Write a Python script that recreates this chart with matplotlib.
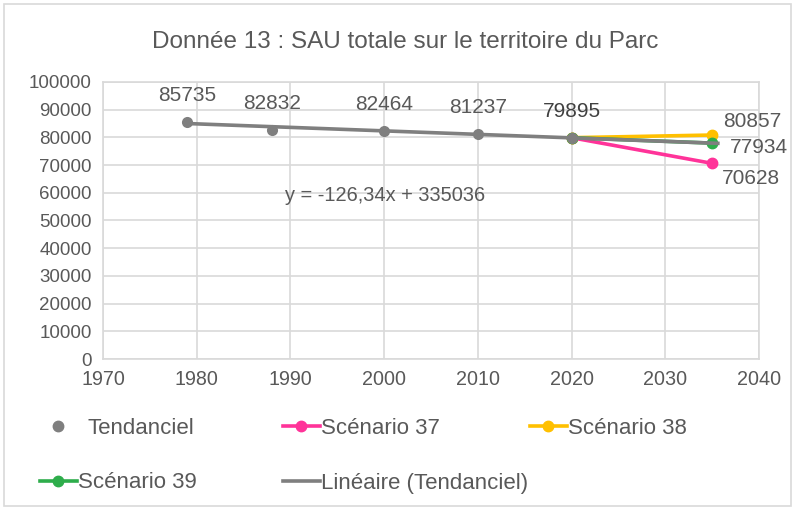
import matplotlib
matplotlib.use("Agg")
import matplotlib.pyplot as plt
from matplotlib.lines import Line2D
import numpy as np

plt.rcParams['font.family'] = ['Liberation Sans', 'DejaVu Sans']

# Data
years_tend = [1979, 1988, 2000, 2010, 2020]
values_tend = [85735, 82832, 82464, 81237, 79895]
years_scen = [2020, 2035]
scen37 = [79895, 70628]
scen38 = [79895, 80857]
scen39 = [79895, 77934]
trend_slope = -126.34
trend_intercept = 335036
trend_range = [1979, 2035.8]
xticks = [1970, 1980, 1990, 2000, 2010, 2020, 2030, 2040]
yticks = list(range(0, 100001, 10000))
title = "Donnée 13 : SAU totale sur le territoire du Parc"

GREY = '#7F7F7F'
PINK = '#FF3399'
YELLOW = '#FFC000'
GREEN = '#2EAD4B'
TXT = '#595959'
GRID = '#D9D9D9'

fig = plt.figure(figsize=(7.95, 5.15), dpi=100)
ax = fig.add_axes([103/795, 1-359/515, (759-103)/795, (359-82)/515])

ax.plot(years_scen, scen37, color=PINK, lw=2.6, marker='o', ms=7.5, zorder=3)
ax.plot(years_scen, scen38, color=YELLOW, lw=2.6, marker='o', ms=7.5, zorder=3)
ax.plot(years_scen, scen39, color=GREEN, lw=2.6, marker='o', ms=7.5, zorder=3)
tx = np.array(trend_range)
ax.plot(tx, trend_slope*tx + trend_intercept, color=GREY, lw=2.6, zorder=4,
        solid_capstyle='butt')
ax.scatter(years_tend, values_tend, color=GREY, s=64, zorder=5, linewidths=0)

ax.set_xlim(1970, 2040)
ax.set_ylim(0, 100000)
ax.set_xticks(xticks)
ax.set_yticks(yticks)
ax.grid(True, color=GRID, lw=1.2)
ax.set_axisbelow(True)
for s in ax.spines.values():
    s.set_color(GRID)
    s.set_linewidth(1.2)
ax.tick_params(length=0, labelsize=13.5, colors=TXT, pad=8)
ax.tick_params(axis='x', labelsize=14.2)

LBL = 15
# data labels
for x, v in zip(years_tend, values_tend):
    c = '#404040' if x == 2020 else TXT
    ax.annotate(str(v), (x, v), xytext=(0, 19), textcoords='offset points',
                ha='center', va='center', fontsize=LBL, color=c)
ax.annotate(str(scen38[1]), (years_scen[1], scen38[1]), xytext=(8, 10),
            textcoords='offset points', ha='left', va='center', fontsize=LBL, color=TXT)
ax.annotate(str(scen39[1]), (years_scen[1], scen39[1]), xytext=(13, -3),
            textcoords='offset points', ha='left', va='center', fontsize=LBL, color=TXT)
ax.annotate(str(scen37[1]), (years_scen[1], scen37[1]), xytext=(7, -11),
            textcoords='offset points', ha='left', va='center', fontsize=LBL, color=TXT)

ax.text(1989.4, 58850, "y = -126,34x + 335036", ha='left', va='center',
        fontsize=14.4, color=TXT)

fig.text(405/795, 1-42/515, title, ha='center', va='center', fontsize=17.5, color=TXT)

# legend entries
def leg(handle, label, x, y, pad=0.08):
    l = fig.legend(handles=[handle], labels=[label], loc='center left',
                   bbox_to_anchor=(x/795, 1-y/515), frameon=False,
                   fontsize=16, labelcolor=TXT, handlelength=1.65,
                   handletextpad=pad, borderaxespad=0, borderpad=0)
    return l

leg(Line2D([], [], color=GREY, marker='o', ls='none', ms=7.5), 'Tendanciel', 40, 428, pad=0.5)
leg(Line2D([], [], color=PINK, marker='o', lw=2.6, ms=7.5), 'Scénario 37', 283, 428)
leg(Line2D([], [], color=YELLOW, marker='o', lw=2.6, ms=7.5), 'Scénario 38', 530, 428)
leg(Line2D([], [], color=GREEN, marker='o', lw=2.6, ms=7.5), 'Scénario 39', 40, 483)
leg(Line2D([], [], color=GREY, lw=2.6), 'Linéaire (Tendanciel)', 283, 483)

# outer border
fig.add_artist(plt.Rectangle((4/795, 1-506/515), 787/795, 502/515, fill=False,
                             edgecolor=GRID, lw=1.2, transform=fig.transFigure))

fig.savefig('out.png', dpi=100)
